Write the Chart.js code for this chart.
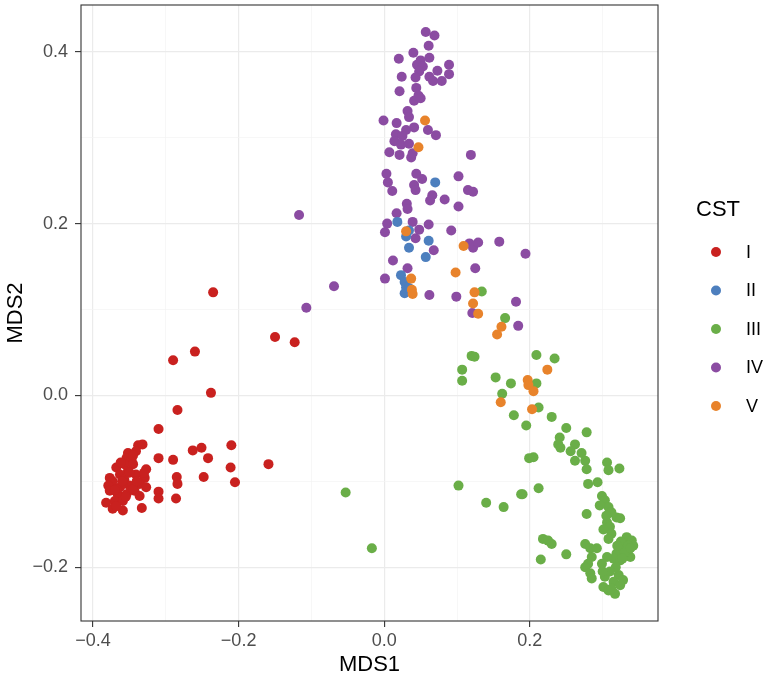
<!DOCTYPE html>
<html>
<head>
<meta charset="utf-8">
<script src="https://cdn.jsdelivr.net/npm/chart.js@4.4.1/dist/chart.umd.min.js"></script>
<style>
  html, body { margin: 0; padding: 0; background: #fff; }
  canvas { display: block; }
</style>
</head>
<body>
<canvas id="mdsChart" width="766" height="677"></canvas>
<script>
// CST groups, values as [MDS1, MDS2]
const categories = ['I', 'II', 'III', 'IV', 'V'];
const colors = ['#C9211F', '#4D7FBE', '#6AAE48', '#8B4CA2', '#E8832B'];

const cstI = [
  [-0.235, 0.120], [-0.150, 0.068], [-0.123, 0.062], [-0.260, 0.051], [-0.290, 0.041],
  [-0.238, 0.003], [-0.284, -0.017], [-0.310, -0.039], [-0.210, -0.058], [-0.263, -0.064],
  [-0.251, -0.061], [-0.242, -0.073], [-0.310, -0.073], [-0.290, -0.075], [-0.211, -0.084],
  [-0.159, -0.080], [-0.248, -0.095], [-0.205, -0.101], [-0.285, -0.095], [-0.284, -0.103],
  [-0.310, -0.112], [-0.310, -0.120], [-0.286, -0.120], [-0.333, -0.131],
  [-0.338, -0.058], [-0.332, -0.057], [-0.352, -0.067], [-0.341, -0.065], [-0.354, -0.073],
  [-0.347, -0.075], [-0.357, -0.080], [-0.345, -0.080], [-0.368, -0.084], [-0.352, -0.088],
  [-0.327, -0.086], [-0.363, -0.092], [-0.341, -0.092], [-0.377, -0.096], [-0.357, -0.098],
  [-0.329, -0.096], [-0.336, -0.103], [-0.373, -0.100], [-0.379, -0.105], [-0.350, -0.105],
  [-0.363, -0.107], [-0.327, -0.107], [-0.377, -0.111], [-0.343, -0.111], [-0.366, -0.115],
  [-0.354, -0.115], [-0.336, -0.117], [-0.382, -0.125], [-0.370, -0.123], [-0.359, -0.123],
  [-0.373, -0.132], [-0.359, -0.134], [-0.368, -0.129], [-0.345, -0.109], [-0.359, -0.103],
  [-0.368, -0.109], [-0.345, -0.070], [-0.350, -0.090], [-0.360, -0.100], [-0.370, -0.110],
  [-0.355, -0.118], [-0.340, -0.100], [-0.362, -0.078], [-0.330, -0.090]
];

const cstII = [
  [0.070, 0.248], [0.018, 0.202], [0.034, 0.192], [0.030, 0.185], [0.061, 0.180],
  [0.034, 0.172], [0.057, 0.161], [0.023, 0.140], [0.028, 0.132], [0.030, 0.126],
  [0.028, 0.119], [0.034, 0.125]
];

const cstIII = [
  [0.134, 0.121], [0.166, 0.090], [0.120, 0.046], [0.124, 0.045], [0.107, 0.030],
  [0.107, 0.017], [0.153, 0.021], [0.174, 0.014], [0.209, 0.047], [0.234, 0.043],
  [0.209, 0.014], [0.162, 0.002], [0.212, -0.014], [0.178, -0.023], [0.195, -0.035],
  [0.230, -0.025], [0.250, -0.038], [0.241, -0.049], [0.239, -0.057], [0.278, -0.043],
  [0.262, -0.057], [0.242, -0.061], [0.256, -0.065], [0.271, -0.067], [0.262, -0.076],
  [0.276, -0.076], [0.199, -0.073], [0.205, -0.072], [0.306, -0.078], [0.323, -0.085],
  [0.308, -0.087], [0.278, -0.086],
  [0.280, -0.103], [0.293, -0.101], [0.190, -0.115], [0.212, -0.108], [0.299, -0.117],
  [0.303, -0.122], [0.278, -0.138], [0.308, -0.130], [0.312, -0.136], [0.319, -0.142],
  [0.324, -0.143], [0.306, -0.148], [0.310, -0.153], [0.301, -0.156], [0.312, -0.161],
  [0.308, -0.167], [0.218, -0.167], [0.225, -0.169], [0.230, -0.173], [0.276, -0.173],
  [0.283, -0.178], [0.292, -0.178], [0.333, -0.165], [0.340, -0.169], [0.328, -0.173],
  [0.342, -0.175], [0.324, -0.178], [0.335, -0.180], [0.319, -0.184], [0.331, -0.186],
  [0.315, -0.190], [0.306, -0.188], [0.299, -0.196], [0.324, -0.192], [0.250, -0.185],
  [0.215, -0.191], [0.285, -0.188], [0.280, -0.196], [0.276, -0.200], [0.283, -0.207],
  [0.285, -0.213], [0.303, -0.211], [0.322, -0.209], [0.315, -0.217], [0.324, -0.221],
  [0.301, -0.223], [0.308, -0.227], [0.317, -0.231], [0.312, -0.225], [0.328, -0.215],
  [0.338, -0.188], [0.325, -0.170], [0.335, -0.175], [0.330, -0.183], [0.338, -0.178],
  [0.320, -0.175], [0.327, -0.190], [0.318, -0.200], [0.310, -0.205], [0.300, -0.205],
  [0.296, -0.128], [0.305, -0.140],
  [0.102, -0.105], [0.140, -0.125], [0.164, -0.130], [0.188, -0.115],
  [-0.053, -0.113], [-0.017, -0.178]
];

const cstIV = [
  [0.057, 0.423], [0.069, 0.419], [0.061, 0.407], [0.040, 0.399], [0.020, 0.392],
  [0.062, 0.393], [0.050, 0.390], [0.045, 0.385], [0.053, 0.383], [0.089, 0.385],
  [0.073, 0.378], [0.048, 0.377], [0.024, 0.371], [0.062, 0.371], [0.043, 0.370],
  [0.089, 0.374], [0.067, 0.366], [0.079, 0.366], [0.021, 0.354], [0.044, 0.358],
  [0.047, 0.349], [0.041, 0.343], [0.050, 0.346], [0.032, 0.331], [0.034, 0.324],
  [-0.001, 0.320], [0.017, 0.317], [0.041, 0.312], [0.030, 0.309], [0.060, 0.309],
  [0.016, 0.304], [0.025, 0.302], [0.071, 0.303], [0.014, 0.296], [0.023, 0.292],
  [0.034, 0.293], [0.007, 0.283], [0.021, 0.280], [0.037, 0.277], [0.119, 0.280],
  [0.039, 0.282],
  [0.003, 0.258], [0.005, 0.248], [0.011, 0.238], [0.044, 0.258], [0.052, 0.252],
  [0.041, 0.245], [0.043, 0.239], [0.102, 0.255], [0.115, 0.239], [0.122, 0.237],
  [0.066, 0.233], [0.063, 0.227], [0.083, 0.228], [0.102, 0.220], [0.031, 0.223],
  [0.032, 0.217], [0.017, 0.212], [0.004, 0.200], [0.001, 0.190], [0.039, 0.202],
  [0.048, 0.193], [0.061, 0.199], [0.043, 0.183], [0.068, 0.169], [0.092, 0.192],
  [0.117, 0.177], [0.122, 0.172], [0.129, 0.178], [0.158, 0.179], [0.194, 0.165],
  [0.012, 0.157], [0.032, 0.148], [0.001, 0.136], [0.125, 0.148], [0.062, 0.117],
  [0.099, 0.115], [0.181, 0.109], [0.121, 0.096], [0.184, 0.081],
  [-0.117, 0.210], [-0.069, 0.127], [-0.107, 0.102]
];

const cstV = [
  [0.056, 0.320], [0.047, 0.289], [0.030, 0.191], [0.109, 0.174], [0.098, 0.143],
  [0.037, 0.136], [0.038, 0.123], [0.039, 0.118], [0.124, 0.120], [0.122, 0.107],
  [0.129, 0.095], [0.161, 0.080], [0.155, 0.071], [0.197, 0.018], [0.198, 0.012],
  [0.205, 0.005], [0.224, 0.030], [0.160, -0.008], [0.203, -0.016]
];

const groups = [cstI, cstII, cstIII, cstIV, cstV];
const drawOrder = [3, 1, 2, 4, 0]; // lower = drawn on top

const xTicks = [-0.4, -0.3, -0.2, -0.1, 0, 0.1, 0.2, 0.3];
const yTicks = [-0.2, -0.1, 0, 0.1, 0.2, 0.3, 0.4];

const FONT = "'Liberation Sans', Arial, Helvetica, sans-serif";

function isMajor(v) {
  return Math.round(v * 10) % 2 === 0;
}
function fmt(v) {
  return v.toFixed(1).replace('-', '\u2212');
}

const gridOpts = {
  color: ctx => isMajor(ctx.tick.value) ? '#EBEBEB' : '#F4F4F4',
  lineWidth: ctx => isMajor(ctx.tick.value) ? 1.2 : 0.7,
  tickColor: ctx => isMajor(ctx.tick.value) ? '#333333' : 'rgba(0,0,0,0)',
  tickLength: 6,
  tickWidth: 1.1
};

// panel border + legend, ggplot style
const panelAndLegend = {
  id: 'panelAndLegend',
  afterDraw(chart) {
    const { ctx, chartArea: a } = chart;
    ctx.save();
    ctx.strokeStyle = '#333333';
    ctx.lineWidth = 1.1;
    ctx.strokeRect(a.left, a.top, a.right - a.left, a.bottom - a.top);

    ctx.fillStyle = '#000';
    ctx.textBaseline = 'middle';
    ctx.textAlign = 'left';
    ctx.font = '22px ' + FONT;
    ctx.fillText('CST', 696, 210);

    ctx.font = '18px ' + FONT;
    categories.forEach((c, i) => {
      const y = 252 + i * 38.5;
      ctx.beginPath();
      ctx.arc(716, y, 5, 0, Math.PI * 2);
      ctx.fillStyle = colors[i];
      ctx.fill();
      ctx.fillStyle = '#000';
      ctx.fillText(c, 746, y + 1);
    });
    ctx.restore();
  }
};

const ctx = document.getElementById('mdsChart').getContext('2d');
const mdsChart = new Chart(ctx, {
  type: 'scatter',
  data: {
    datasets: groups.map((g, i) => ({
      label: categories[i],
      data: g.map(p => ({ x: p[0], y: p[1] })),
      backgroundColor: colors[i],
      borderWidth: 0,
      pointRadius: 5,
      pointHoverRadius: 5,
      order: drawOrder[i]
    }))
  },
  options: {
    responsive: false,
    animation: false,
    events: [],
    layout: { padding: { top: 2, right: 108, left: 0, bottom: 0 } },
    plugins: {
      legend: { display: false },
      tooltip: { enabled: false }
    },
    scales: {
      x: {
        type: 'linear',
        min: -0.4165,
        max: 0.376,
        afterBuildTicks: s => { s.ticks = xTicks.map(v => ({ value: v })); },
        afterFit: s => { s.height = 56; s.paddingLeft = 0; s.paddingRight = 0; },
        grid: gridOpts,
        border: { display: false },
        ticks: {
          autoSkip: false,
          maxRotation: 0,
          padding: 3,
          color: '#4D4D4D',
          font: { family: FONT, size: 18 },
          callback: v => isMajor(v) ? fmt(v) : ''
        },
        title: {
          display: true,
          text: 'MDS1',
          color: '#000',
          font: { family: FONT, size: 22, lineHeight: 1 },
          padding: { top: 0, bottom: 1 }
        }
      },
      y: {
        type: 'linear',
        min: -0.2626,
        max: 0.4545,
        afterBuildTicks: s => { s.ticks = yTicks.map(v => ({ value: v })); },
        afterFit: s => { s.width = 81; s.paddingTop = 0; s.paddingBottom = 0; },
        grid: gridOpts,
        border: { display: false },
        ticks: {
          autoSkip: false,
          padding: 7,
          color: '#4D4D4D',
          font: { family: FONT, size: 18 },
          callback: v => isMajor(v) ? fmt(v) : ''
        },
        title: {
          display: true,
          text: 'MDS2',
          color: '#000',
          font: { family: FONT, size: 22, lineHeight: 1 },
          padding: { top: 5, bottom: 0 }
        }
      }
    }
  },
  plugins: [panelAndLegend]
});
</script>
</body>
</html>
